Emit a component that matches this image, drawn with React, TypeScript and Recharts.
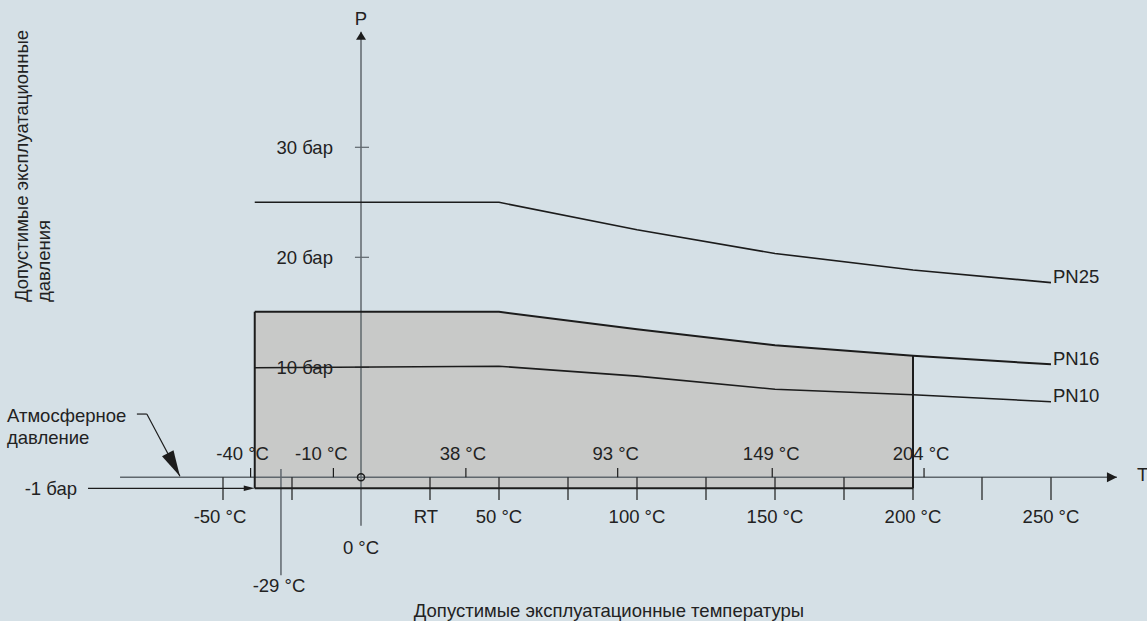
import { ComposedChart, Line, Area, XAxis, YAxis, ReferenceLine, ReferenceDot } from "recharts";

// temperature break points (°C) and rated pressures (bar)
const temps = [-38.5, 50, 100, 150, 200, 250];
const pn25 = [25, 25, 22.5, 20.35, 18.85, 17.7];
const pn16 = [15.05, 15.05, 13.45, 12.0, 11.05, 10.27];
const pn10 = [9.96, 10.1, 9.2, 8.0, 7.5, 6.87];

// shaded working range
const boxMinT = -38.5;
const boxMaxT = 200;
const vacuum = -1;

const topTicks = [-40, -10, 38, 93, 149, 204];
const bottomTicks = [-50, -25, 25, 50, 75, 100, 125, 150, 175, 200, 225, 250];
const bottomLabels: Record<number, string> = {
  [-50]: "-50 °C",
  25: "RT",
  50: "50 °C",
  100: "100 °C",
  150: "150 °C",
  200: "200 °C",
  250: "250 °C",
};
const pressureTicks = [10, 20, 30];
const seriesNames = ["PN25", "PN16", "PN10"];

const BG = "#d5e0e6";
const BOX = "#c8c9c8";
const INK = "#1c1c1c";
const AXIS = "#5f676d";
const TEXT = "#222";
const FS = 18.5;

// small nudges for the top temperature labels
const topShift: Record<number, number> = { [-40]: -8, [-10]: -12, 38: -3, 93: -2, 149: -1, 204: -3 };
const bottomShift: Record<number, number> = { [-50]: -3, 25: -4 };

const toSeries = (vals: number[]) => temps.map((t, i) => ({ t, p: vals[i] }));
const boxData = toSeries(pn16).filter((d) => d.t <= boxMaxT);

const arrow = (len: number, half: number, deg: number) => (props: { cx?: number; cy?: number }) => {
  const { cx = 0, cy = 0 } = props;
  const a = (deg * Math.PI) / 180;
  const ux = Math.cos(a);
  const uy = Math.sin(a);
  const bx = cx - ux * len;
  const by = cy - uy * len;
  const px = -uy * half;
  const py = ux * half;
  return <polygon points={`${cx},${cy} ${bx + px},${by + py} ${bx - px},${by - py}`} fill={INK} />;
};

const lbl = (value: string, position: string, offset: number, extra: Record<string, number> = {}) => ({
  value,
  position,
  offset,
  fill: TEXT,
  fontSize: FS,
  ...extra,
});

const App = () => {
  const series = [pn25, pn16, pn10].map(toSeries);
  return (
    <div
      style={{
        position: "absolute",
        left: 0,
        top: 0,
        width: 1147,
        height: 621,
        background: BG,
        fontFamily: "'Liberation Sans', Arial, sans-serif",
      }}
    >
      <ComposedChart width={1147} height={621} margin={{ top: 37.3, right: 96, bottom: 132.7, left: 85 }}>
        <XAxis type="number" dataKey="t" domain={[-100, 250]} hide />
        <YAxis type="number" domain={[-1, 40]} hide />

        <Area
          data={boxData}
          dataKey="p"
          type="linear"
          baseValue={vacuum}
          fill={BOX}
          fillOpacity={1}
          stroke="none"
          isAnimationActive={false}
        />

        {/* atmospheric pressure axis */}
        <ReferenceLine
          segment={[{ x: -87.3, y: 0 }, { x: 273.9, y: 0 }]}
          stroke={AXIS}
          strokeWidth={1.5}
          ifOverflow="visible"
        />
        <ReferenceDot x={273.9} y={0} r={0} ifOverflow="visible" shape={arrow(10, 5, 0)} />
        <ReferenceDot
          x={273.9}
          y={0}
          r={0}
          fill="none"
          stroke="none"
          ifOverflow="visible"
          label={lbl("T", "right", 20, { dy: -3 })}
        />

        {/* pressure axis */}
        <ReferenceLine
          segment={[{ x: 0, y: -4.4 }, { x: 0, y: 40.5 }]}
          stroke={AXIS}
          strokeWidth={1.5}
          ifOverflow="visible"
        />
        <ReferenceDot x={0} y={40.5} r={0} ifOverflow="visible" shape={arrow(8, 5, -90)} />
        <ReferenceDot x={0} y={40.5} r={0} fill="none" stroke="none" ifOverflow="visible" label={lbl("P", "top", 7)} />
        <ReferenceDot x={0} y={-4.4} r={0} fill="none" stroke="none" ifOverflow="visible" label={lbl("0 °C", "bottom", 15)} />

        {pressureTicks.map((p) => (
          <ReferenceLine
            key={`p${p}`}
            segment={[{ x: -2.2, y: p }, { x: 2.9, y: p }]}
            stroke={AXIS}
            strokeWidth={1.2}
            ifOverflow="visible"
            label={lbl(`${p} бар`, "left", 22)}
          />
        ))}

        {topTicks.map((t) => (
          <ReferenceLine
            key={`tt${t}`}
            segment={[{ x: t, y: 0 }, { x: t, y: 0.85 }]}
            stroke={INK}
            strokeWidth={1.2}
            ifOverflow="visible"
            label={lbl(`${t} °C`, "top", 8, { dx: topShift[t] ?? 0 })}
          />
        ))}

        {bottomTicks.map((t) => (
          <ReferenceLine
            key={`bt${t}`}
            segment={[{ x: t, y: 0 }, { x: t, y: -2.06 }]}
            stroke={INK}
            strokeWidth={1.2}
            ifOverflow="visible"
            label={bottomLabels[t] ? lbl(bottomLabels[t], "bottom", 10, { dx: bottomShift[t] ?? 0 }) : undefined}
          />
        ))}

        <ReferenceLine
          segment={[{ x: -29, y: 0.75 }, { x: -29, y: -8.9 }]}
          stroke={AXIS}
          strokeWidth={1.5}
          ifOverflow="visible"
          label={lbl("-29 °C", "bottom", 4, { dx: -2 })}
        />

        {/* box border */}
        <ReferenceLine
          segment={[{ x: boxMinT, y: vacuum }, { x: boxMinT, y: pn16[0] }]}
          stroke={INK}
          strokeWidth={2}
          ifOverflow="visible"
        />
        <ReferenceLine
          segment={[{ x: boxMaxT, y: vacuum }, { x: boxMaxT, y: pn16[4] }]}
          stroke={INK}
          strokeWidth={2}
          ifOverflow="visible"
        />
        <ReferenceLine
          segment={[{ x: boxMinT, y: vacuum }, { x: boxMaxT, y: vacuum }]}
          stroke={INK}
          strokeWidth={2}
          ifOverflow="visible"
        />

        {/* -1 bar pointer */}
        <ReferenceLine
          segment={[{ x: -98.9, y: vacuum }, { x: boxMinT - 3, y: vacuum }]}
          stroke={INK}
          strokeWidth={1.2}
          ifOverflow="visible"
          label={lbl("-1 бар", "left", 11)}
        />
        <ReferenceDot x={boxMinT} y={vacuum} r={0} ifOverflow="visible" shape={arrow(11, 2.8, 0)} />

        {/* atmospheric pressure pointer */}
        <ReferenceLine
          segment={[{ x: -81.2, y: 5.75 }, { x: -77.6, y: 5.75 }]}
          stroke={INK}
          strokeWidth={1.2}
          ifOverflow="visible"
        />
        <ReferenceLine
          segment={[{ x: -77.6, y: 5.75 }, { x: -65.6, y: 0.1 }]}
          stroke={INK}
          strokeWidth={1.2}
          ifOverflow="visible"
        />
        <ReferenceDot x={-65.6} y={0.1} r={0} ifOverflow="visible" shape={arrow(26, 6.5, 62)} />

        <ReferenceDot x={0} y={0} r={3.5} fill="none" stroke={INK} strokeWidth={1.5} ifOverflow="visible" />

        {series.map((data, i) => (
          <Line
            key={seriesNames[i]}
            data={data}
            dataKey="p"
            type="linear"
            stroke={INK}
            strokeWidth={i === 1 ? 2 : 1.6}
            dot={false}
            isAnimationActive={false}
          />
        ))}
        {series.map((data, i) => (
          <ReferenceDot
            key={`n${seriesNames[i]}`}
            x={data[data.length - 1].t}
            y={data[data.length - 1].p}
            r={0}
            fill="none"
            stroke="none"
            ifOverflow="visible"
            label={lbl(seriesNames[i], "right", 2, { dy: -6 })}
          />
        ))}

        <g fill={TEXT} fontSize={FS}>
          <text x={7} y={421.7}>Атмосферное</text>
          <text x={7} y={444}>давление</text>
          <text x={609} y={617} textAnchor="middle">
            Допустимые эксплуатационные температуры
          </text>
          <text transform="translate(28,302) rotate(-90)">Допустимые эксплуатационные</text>
          <text transform="translate(50,302) rotate(-90)">давления</text>
        </g>
      </ComposedChart>
    </div>
  );
};

export default App;
